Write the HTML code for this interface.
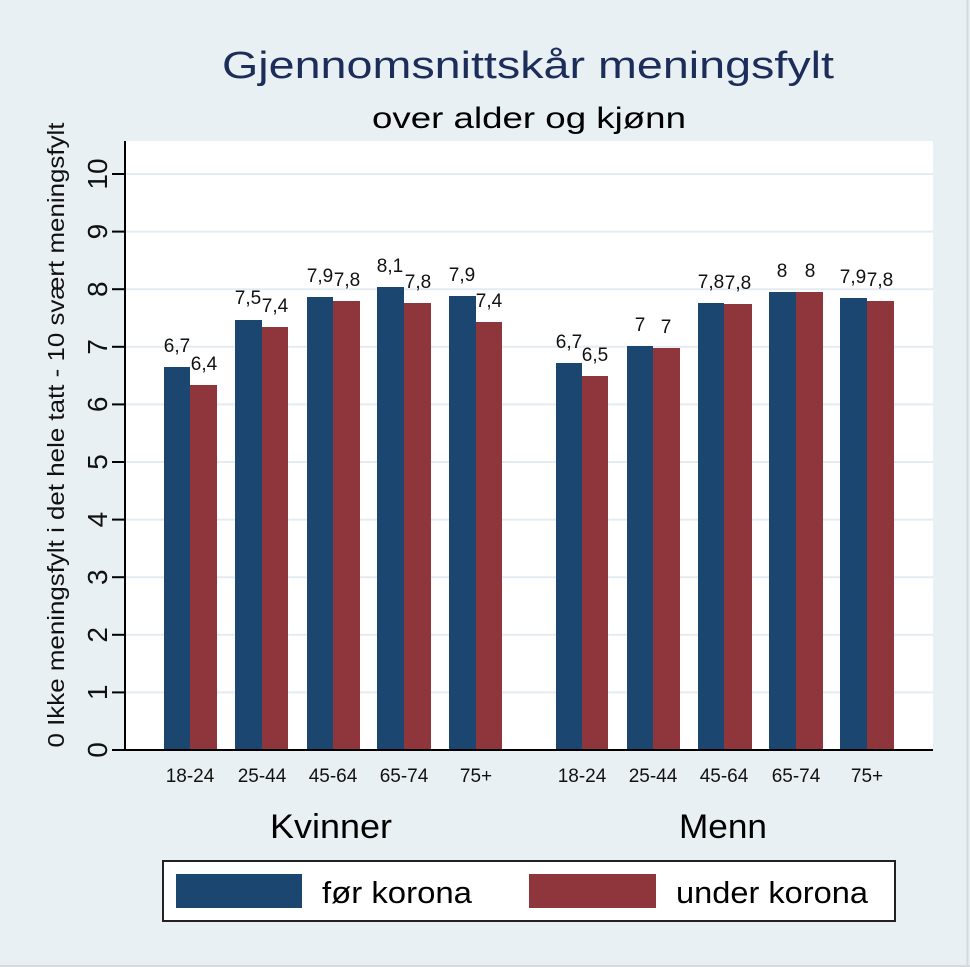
<!DOCTYPE html>
<html><head><meta charset="utf-8"><style>html,body{margin:0;padding:0;background:#e9f0f3}svg{display:block}</style></head>
<body>
<svg width="970" height="967" viewBox="0 0 970 967" xmlns="http://www.w3.org/2000/svg" font-family="Liberation Sans, Arial, sans-serif">
<rect x="0" y="0" width="970" height="967" fill="#e9f0f3"/>
<line x1="967.5" y1="0" x2="967.5" y2="967" stroke="#d4dadd" stroke-width="2"/>
<line x1="0" y1="966" x2="970" y2="966" stroke="#d4dadd" stroke-width="2"/>
<text x="528" y="78" font-size="38" fill="#1c2d5a" text-anchor="middle" textLength="612" lengthAdjust="spacingAndGlyphs">Gjennomsnittskår meningsfylt</text>
<text x="529" y="128" font-size="30" fill="#000" text-anchor="middle" textLength="314" lengthAdjust="spacingAndGlyphs">over alder og kjønn</text>
<rect x="125" y="141" width="808" height="609" fill="#fff"/>
<g stroke="#e3ecf0" stroke-width="2">
<line x1="126" y1="692.4" x2="933" y2="692.4"/><line x1="126" y1="634.8" x2="933" y2="634.8"/>
<line x1="126" y1="577.2" x2="933" y2="577.2"/><line x1="126" y1="519.6" x2="933" y2="519.6"/>
<line x1="126" y1="462" x2="933" y2="462"/><line x1="126" y1="404.4" x2="933" y2="404.4"/>
<line x1="126" y1="346.8" x2="933" y2="346.8"/><line x1="126" y1="289.2" x2="933" y2="289.2"/>
<line x1="126" y1="231.6" x2="933" y2="231.6"/><line x1="126" y1="174" x2="933" y2="174"/>
</g>
<g fill="#1b4670">
<rect x="164" y="367" width="26" height="383"/><rect x="235" y="320" width="27" height="430"/>
<rect x="307" y="297" width="26" height="453"/><rect x="377" y="287" width="27" height="463"/>
<rect x="449" y="296" width="27" height="454"/>
<rect x="556" y="363" width="26" height="387"/><rect x="627" y="346" width="26" height="404"/>
<rect x="698" y="303" width="26" height="447"/><rect x="769" y="292" width="27" height="458"/>
<rect x="840" y="298" width="27" height="452"/>
</g>
<g fill="#8f353c">
<rect x="190" y="385" width="27" height="365"/><rect x="262" y="327" width="26" height="423"/>
<rect x="333" y="301" width="27" height="449"/><rect x="404" y="303" width="27" height="447"/>
<rect x="476" y="322" width="26" height="428"/>
<rect x="582" y="376" width="26" height="374"/><rect x="653" y="348" width="27" height="402"/>
<rect x="724" y="304" width="28" height="446"/><rect x="796" y="292" width="27" height="458"/>
<rect x="867" y="301" width="27" height="449"/>
</g>
<g font-size="19" fill="#111" text-anchor="middle">
<text x="177" y="352">6,7</text><text x="204" y="370">6,4</text>
<text x="248" y="304">7,5</text><text x="275" y="312">7,4</text>
<text x="320" y="282">7,9</text><text x="347" y="286">7,8</text>
<text x="390" y="272">8,1</text><text x="418" y="288">7,8</text>
<text x="462" y="281">7,9</text><text x="489" y="307">7,4</text>
<text x="569" y="348">6,7</text><text x="595" y="361">6,5</text>
<text x="640" y="331">7</text><text x="666" y="333">7</text>
<text x="711" y="288">7,8</text><text x="738" y="289">7,8</text>
<text x="782" y="277">8</text><text x="810" y="277">8</text>
<text x="853" y="283">7,9</text><text x="880" y="286">7,8</text>
</g>
<g stroke="#000" stroke-width="2">
<line x1="125" y1="141" x2="125" y2="751"/>
<line x1="112" y1="750" x2="933" y2="750"/>
<line x1="112" y1="692.4" x2="125" y2="692.4"/><line x1="112" y1="634.8" x2="125" y2="634.8"/>
<line x1="112" y1="577.2" x2="125" y2="577.2"/><line x1="112" y1="519.6" x2="125" y2="519.6"/>
<line x1="112" y1="462" x2="125" y2="462"/><line x1="112" y1="404.4" x2="125" y2="404.4"/>
<line x1="112" y1="346.8" x2="125" y2="346.8"/><line x1="112" y1="289.2" x2="125" y2="289.2"/>
<line x1="112" y1="231.6" x2="125" y2="231.6"/><line x1="112" y1="174" x2="125" y2="174"/>
</g>
<g font-size="28" fill="#111" text-anchor="middle">
<text transform="translate(107,750) rotate(-90)">0</text>
<text transform="translate(107,692.4) rotate(-90)">1</text>
<text transform="translate(107,634.8) rotate(-90)">2</text>
<text transform="translate(107,577.2) rotate(-90)">3</text>
<text transform="translate(107,519.6) rotate(-90)">4</text>
<text transform="translate(107,462) rotate(-90)">5</text>
<text transform="translate(107,404.4) rotate(-90)">6</text>
<text transform="translate(107,346.8) rotate(-90)">7</text>
<text transform="translate(107,289.2) rotate(-90)">8</text>
<text transform="translate(107,231.6) rotate(-90)">9</text>
<text transform="translate(107,174) rotate(-90)">10</text>
</g>
<text transform="translate(64,435) rotate(-90)" font-size="23" fill="#111" text-anchor="middle" textLength="625" lengthAdjust="spacingAndGlyphs">0 Ikke meningsfylt i det hele tatt - 10 svært meningsfylt</text>
<g font-size="19" fill="#111" text-anchor="middle">
<text x="190" y="782">18-24</text><text x="262" y="782">25-44</text><text x="333" y="782">45-64</text><text x="404" y="782">65-74</text><text x="476" y="782">75+</text>
<text x="582" y="782">18-24</text><text x="653" y="782">25-44</text><text x="724" y="782">45-64</text><text x="796" y="782">65-74</text><text x="867" y="782">75+</text>
</g>
<text x="270" y="838" font-size="34" fill="#000" textLength="122" lengthAdjust="spacingAndGlyphs">Kvinner</text>
<text x="679" y="838" font-size="34" fill="#000" textLength="88" lengthAdjust="spacingAndGlyphs">Menn</text>
<rect x="163" y="861" width="732" height="60" fill="#fff" stroke="#222" stroke-width="2"/>
<rect x="176" y="874" width="126" height="34" fill="#1b4670"/>
<rect x="529" y="874" width="127" height="34" fill="#8f353c"/>
<text x="322" y="903" font-size="31" fill="#000" textLength="150" lengthAdjust="spacingAndGlyphs">før korona</text>
<text x="676" y="903" font-size="31" fill="#000" textLength="192" lengthAdjust="spacingAndGlyphs">under korona</text>
</svg>
</body></html>
